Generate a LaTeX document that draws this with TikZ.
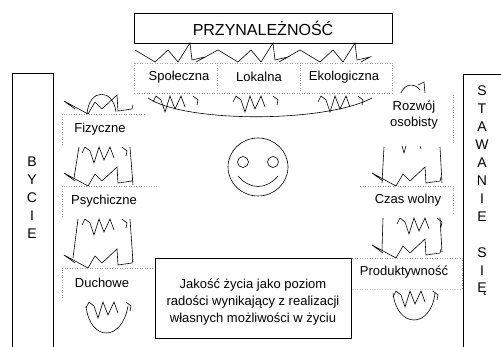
\documentclass[tikz,border=0pt]{standalone}
\usepackage{fontspec}
\setmainfont{Liberation Sans}
\tikzset{
  crownup/.pic={\draw (11,-5)--(0,-13)--(24,0)--(31,-12)--(38,-5)--(53,-19)--(54,-3)--(68,-5)--(69,-9);},
  crowndown/.pic={\draw (0,6)--(3,0)--(8,4)--(12,16)--(17,0)--(22,13)--(28,0)--(32,11); \draw (40,0)--(45,4)--(44,9);},
}
\begin{document}
\begin{tikzpicture}[x=1pt,y=-1pt,
  line width=0.6pt,
  lbl/.style={font=\fontsize{13}{15}\selectfont, inner sep=0pt, anchor=center},
  vletter/.style={font=\fontsize{14}{16}\selectfont, inner sep=0pt, anchor=center},
  dotline/.style={black!35, dotted, line width=0.5pt},
  bigbox/.style={line width=0.8pt},
]
\useasboundingbox (0,0) rectangle (501,347);

% side frames
\draw[bigbox] (12,347) -- (12,73) -- (53,73) -- (53,347);
\draw[bigbox] (463,347) -- (463,74) -- (501,74);
\foreach \l [count=\i] in {B,Y,C,I,E}
  \node[vletter] (by\i) at (32,{144+18*\i}) {\l};
\foreach \l [count=\i] in {S,T,A,W,A,N,I,E,{},S,I,Ę}
  \node[vletter] (st\i) at (482,{73+18*\i}) {\l};

% top box and its three parts
\node[draw, bigbox, minimum width=258pt, minimum height=30pt, inner sep=0pt,
      font=\fontsize{16}{18}\selectfont] (przyn) at (263,28) {PRZYNALEŻNOŚĆ};
\draw[dotline] (134,63) rectangle (392,93);
\draw[dotline] (217,63) -- (217,93) (300,63) -- (300,93);
\node[lbl] (spol) at (179,77) {Społeczna};
\node[lbl] (lok) at (259,77) {Lokalna};
\node[lbl] (eko) at (344,77) {Ekologiczna};

% zigzag band under the top box
\draw (135,50)--(155,62)--(168,50)--(178,62)--(190,43)--(192,60)--(205,57)--(196,62)
      --(218,50)--(238,62)--(251,50)--(261,62)--(273,43)--(275,60)--(288,57)--(279,62)
      --(300,50)--(320,62)--(333,50)--(343,62)--(355,43)--(357,60)--(370,57)--(361,62);

% teeth and bowl under the three parts
\pic at (153,96) {crowndown};
\pic at (233,96) {crowndown};
\pic at (318,96) {crowndown};
\draw (148,98) .. controls (185,123) and (325,123) .. (372,98);

% left column
\draw[dotline] (62,145) -- (62,114) -- (145,114);
\node[lbl] (fiz) at (100,129) {Fizyczne};
\pic at (64,114) {crownup};
\draw (87,114) .. controls (89,88) and (113,88) .. (116,112);
\draw (79,147) -- (74,178) (130,147) -- (133,185);
\pic at (82,147) {crowndown};

\draw[dotline] (62,217) -- (62,186) -- (157,186);
\node[lbl] (psy) at (104,201) {Psychiczne};
\pic at (64,186) {crownup};
\draw (78,219) -- (73,258) (130,219) -- (133,262);
\pic at (82,219) {crowndown};

\draw[dotline] (62,298) -- (62,268) -- (157,268);
\node[lbl] (duch) at (102,283) {Duchowe};
\pic at (64,268) {crownup};
\pic at (86,302) {crowndown};
\draw (86,306) .. controls (90,342) and (122,342) .. (128,306);

% right column
\node[lbl] (roz1) at (414,107) {Rozwój};
\node[lbl] (roz2) at (414,123) {osobisty};
\draw[dotline] (453,95) -- (453,145);
\draw (401,93) .. controls (405,83) and (415,83) .. (420,90);
\draw (418,85) -- (424,82) -- (425,93);
\draw (384,147) -- (382,183) (440,147) -- (442,183);
\draw (402,146) -- (404,153) -- (406,146) (420,146) -- (421,149);

\pic at (372,186) {crownup};
\draw[dotline] (360,186) -- (453,186) -- (453,215);
\node[lbl] (czas) at (408,200) {Czas wolny};
\draw (383,218) -- (382,250) (440,218) -- (442,252);
\pic at (397,218) {crowndown};

\pic at (372,258) {crownup};
\draw[dotline] (352,258) -- (462,258) -- (462,289);
\draw[dotline, black!18] (352,289) -- (462,289);
\node[lbl] (prod) at (404,272) {Produktywność};
\pic at (393,291) {crowndown};
\draw (393,293) .. controls (397,329) and (431,329) .. (435,293);

% smiling face
\draw (258,167) ellipse [x radius=30, y radius=29];
\draw (243,162) circle [radius=5.5] (273,162) circle [radius=5.5];
\draw (238,176) .. controls (250,190) and (266,190) .. (278,176);

% definition box
\node[draw, bigbox, minimum width=196pt, minimum height=80pt, inner sep=0pt] (jak) at (253,298) {};
\node[font=\fontsize{13}{17}\selectfont, align=center, inner sep=0pt] (jaktxt) at (253,302)
  {Jakość życia jako poziom\\radości wynikający z realizacji\\własnych możliwości w życiu};
\end{tikzpicture}
\end{document}
